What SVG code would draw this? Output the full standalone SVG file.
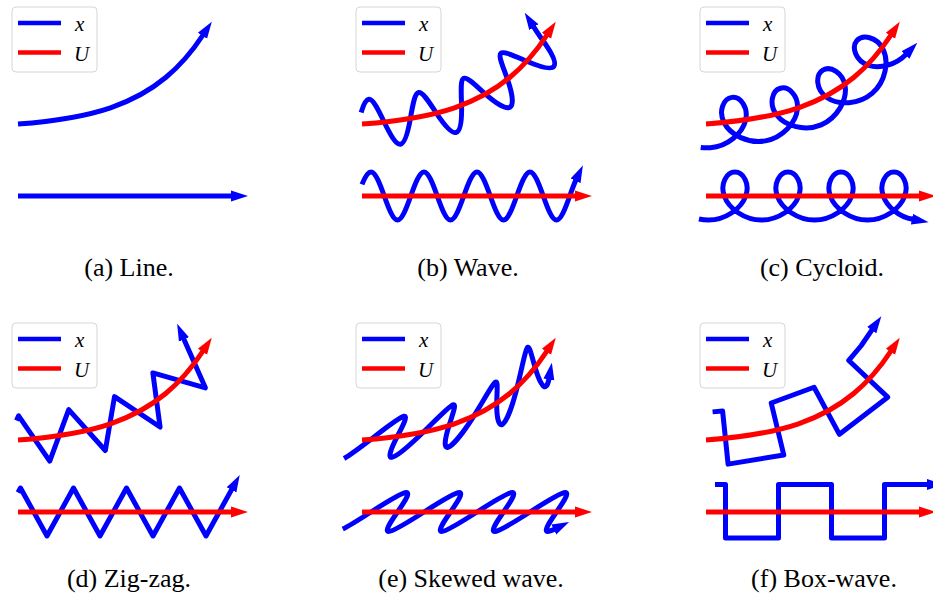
<svg xmlns="http://www.w3.org/2000/svg" width="933" height="594" viewBox="0 0 933 594">
<style>
.x{fill:none;stroke:#0000ff;stroke-width:5;stroke-linejoin:round}
.u{fill:none;stroke:#ff0000;stroke-width:5;stroke-linejoin:round}
.xa{marker-end:url(#hb)}
.ua{marker-end:url(#hr)}
.frame{fill:#ffffff;fill-opacity:0.8;stroke:#d6d6d6;stroke-width:1}
.lx{stroke:#0000ff;stroke-width:4.5}
.lu{stroke:#ff0000;stroke-width:4.5}
.lg{font-family:"Liberation Serif",serif;font-style:italic;font-size:21px;fill:#000}
.cap{font-family:"Liberation Serif",serif;font-size:26px;text-anchor:middle;fill:#000}
</style>
<defs>
<marker id="hb" viewBox="0 -6 17 12" refX="1" refY="0" markerWidth="17" markerHeight="12" markerUnits="userSpaceOnUse" orient="auto"><path d="M0,-5.5L17,0L0,5.5z" fill="#0000ff"/></marker>
<marker id="hr" viewBox="0 -6 17 12" refX="1" refY="0" markerWidth="17" markerHeight="12" markerUnits="userSpaceOnUse" orient="auto"><path d="M0,-5.5L17,0L0,5.5z" fill="#ff0000"/></marker>
</defs>
<rect width="933" height="594" fill="#ffffff"/>

<g id="panel-a">
<g id="a-curves">
<path class="x xa" d="M18,124C48.83,121.67 79.67,118.21 110.5,107.76C129,101.49 147.5,92.68 166,77.26C178.33,66.98 190.67,53.73 203,35"/>
<path class="x xa" d="M18,196H232"/>
</g>
<g id="a-legend">
<rect class="frame" x="12" y="7" width="85" height="65" rx="4"/>
<line class="lx" x1="18" y1="23" x2="61" y2="23"/>
<line class="lu" x1="18" y1="52.5" x2="61" y2="52.5"/>
<text class="lg" x="75" y="30.5">x</text>
<text class="lg" x="74" y="61">U</text>
</g>
<text id="a-caption" class="cap" x="129" y="276">(a) Line.</text>
</g>

<g id="panel-b">
<g id="b-curves" transform="translate(344,0)">
<path class="x xa" d="M17.12,112.41C19.51,104.74 21.99,99.61 24.88,99.36C29.13,98.99 34.41,109.96 40.15,121.98C45.89,134.00 51.90,144.81 56.50,144.19C61.10,143.57 64.10,131.56 66.40,118.44C68.70,105.32 70.61,93.35 74.61,92.53C78.61,91.71 85.00,101.99 92.36,113.09C99.72,124.19 107.52,133.90 112.18,132.45C116.84,131.00 117.90,118.55 117.56,105.23C117.23,91.91 116.26,79.91 119.73,78.30C123.20,76.69 131.52,85.31 141.51,94.11C151.51,102.91 161.91,109.96 166.13,107.13C170.35,104.30 167.89,91.89 163.48,79.32C159.08,66.75 154.07,55.91 156.84,53.32C159.61,50.73 170.50,55.99 182.76,61.21C195.02,66.43 206.71,70.35 209.80,66.49C212.89,62.63 206.82,51.61 199.07,40.78C195.41,35.67 191.96,30.35 189.37,26.31"/>
<path class="x xa" d="M18,184.38C21,176.91 24,172 27,172C31.42,172 35.83,183.43 40.25,196s8.83,24 13.25,24s8.83,-11.43 13.25,-24s8.83,-24 13.25,-24s8.83,11.43 13.25,24s8.83,24 13.25,24s8.83,-11.43 13.25,-24s8.83,-24 13.25,-24s8.83,11.43 13.25,24s8.83,24 13.25,24s8.83,-11.43 13.25,-24s8.83,-24 13.25,-24s8.83,11.43 13.25,24s8.83,24 13.25,24s8.83,-11.43 13.25,-24C227.83,190.07 229.92,184.22 232,179.84"/>
<path class="u ua" d="M18,124C48.83,121.67 79.67,118.21 110.5,107.76C129,101.49 147.5,92.68 166,77.26C178.33,66.98 190.67,53.73 203,35"/>
<path class="u ua" d="M18,196H232"/>
</g>
<g id="b-legend" transform="translate(344,0)">
<rect class="frame" x="12" y="7" width="85" height="65" rx="4"/>
<line class="lx" x1="18" y1="23" x2="61" y2="23"/>
<line class="lu" x1="18" y1="52.5" x2="61" y2="52.5"/>
<text class="lg" x="75" y="30.5">x</text>
<text class="lg" x="74" y="61">U</text>
</g>
<text id="b-caption" class="cap" x="468" y="276">(b) Wave.</text>
</g>

<g id="panel-c">
<g id="c-curves" transform="translate(688,0)">
<path class="x xa" d="M12.74,147.42C15.91,147.88 19.15,147.99 22.37,147.74C39.44,146.40 54.42,133.42 57.58,120.32C60.74,107.22 52.26,96.39 43.97,97.39C35.68,98.39 29.98,110.98 36.24,123.00C42.50,135.02 60.42,144.01 77.42,140.87C94.42,137.73 107.98,122.87 109.41,109.28C110.84,95.69 100.62,85.94 92.36,88.26C84.10,90.58 80.40,104.33 88.83,115.24C97.26,126.15 116.97,131.64 133.14,124.84C149.31,118.04 159.21,100.01 157.15,86.26C155.09,72.51 142.35,65.57 134.86,70.19C127.37,74.81 127.48,89.52 138.87,97.57C150.26,105.62 171.06,104.72 184.36,93.15C197.66,81.58 201.23,61.41 194.95,49.02C188.67,36.63 174.48,34.09 168.84,40.71C163.20,47.33 167.66,61.14 180.76,65.43C191.89,69.07 207.97,64.84 218.19,54.25"/>
<path class="x xa" d="M10.99,218.95C14.09,219.64 17.30,220 20.5,220c16.98,0 32.83,-11.43 37.25,-24c4.42,-12.57 -2.6,-24 -10.75,-24c-8.15,0 -15.17,11.43 -10.75,24c4.42,12.57 20.27,24 37.25,24c16.98,0 32.83,-11.43 37.25,-24c4.42,-12.57 -2.6,-24 -10.75,-24c-8.15,0 -15.17,11.43 -10.75,24c4.42,12.57 20.27,24 37.25,24c16.98,0 32.83,-11.43 37.25,-24c4.42,-12.57 -2.6,-24 -10.75,-24c-8.15,0 -15.17,11.43 -10.75,24c4.42,12.57 20.27,24 37.25,24c16.98,0 32.83,-11.43 37.25,-24c4.42,-12.57 -2.6,-24 -10.75,-24c-8.15,0 -15.17,11.43 -10.75,24C199,206.67 210.74,216.82 224.86,219.33"/>
<path class="u ua" d="M18,124C48.83,121.67 79.67,118.21 110.5,107.76C129,101.49 147.5,92.68 166,77.26C178.33,66.98 190.67,53.73 203,35"/>
<path class="u ua" d="M18,196H232"/>
</g>
<g id="c-legend" transform="translate(688,0)">
<rect class="frame" x="12" y="7" width="85" height="65" rx="4"/>
<line class="lx" x1="18" y1="23" x2="61" y2="23"/>
<line class="lu" x1="18" y1="52.5" x2="61" y2="52.5"/>
<text class="lg" x="75" y="30.5">x</text>
<text class="lg" x="74" y="61">U</text>
</g>
<text id="c-caption" class="cap" x="822" y="276">(c) Cycloid.</text>
</g>

<g id="panel-d">
<g id="d-curves" transform="translate(0,316)">
<path class="x xa" d="M16.53,104.59L18.61,99.88L49.73,145.05L68.70,93.67L105.32,134.48L114.52,80.60L160.07,111.03L152.86,56.93L205.38,71.83L183.59,22.49"/>
<path class="x xa" d="M18,176.53L20.5,172L47,220L73.5,172L100,220L126.5,172L153,220L179.5,172L206,220L232,172.91"/>
<path class="u ua" d="M18,124C48.83,121.67 79.67,118.21 110.5,107.76C129,101.49 147.5,92.68 166,77.26C178.33,66.98 190.67,53.73 203,35"/>
<path class="u ua" d="M18,196H232"/>
</g>
<g id="d-legend" transform="translate(0,316)">
<rect class="frame" x="12" y="7" width="85" height="65" rx="4"/>
<line class="lx" x1="18" y1="23" x2="61" y2="23"/>
<line class="lu" x1="18" y1="52.5" x2="61" y2="52.5"/>
<text class="lg" x="75" y="30.5">x</text>
<text class="lg" x="74" y="61">U</text>
</g>
<text id="d-caption" class="cap" x="129" y="587">(d) Zig-zag.</text>
</g>

<g id="panel-e">
<g id="e-curves" transform="translate(344,316)">
<path class="x xa" d="M0.08,142.47C6.66,138.68 16.79,131.12 26.97,123.27C41.96,111.71 55.70,100.85 59.92,100.22C64.15,99.59 58.99,109.34 53.31,120.40C47.63,131.46 43.27,141.78 47.89,141.27C52.51,140.76 65.86,129.24 79.42,116.04C92.99,102.84 105.04,90.15 108.92,88.80C112.80,87.45 108.83,97.67 105.07,109.53C101.31,121.39 99.22,132.54 103.92,131.27C108.63,130.00 119.67,116.04 129.83,100.07C139.99,84.10 148.05,68.76 151.17,66.34C154.29,63.93 152.94,74.77 152.74,87.21C152.54,99.65 154.24,110.91 158.49,108.29C162.74,105.67 168.62,89.18 173.26,70.83C177.90,52.48 180.94,35.09 183.21,31.82C185.48,28.55 187.51,39.57 191.05,51.50C194.59,63.43 199.30,73.67 202.40,69.99C203.40,68.81 204.43,66.11 205.06,62.55"/>
<path class="x xa" d="M-1.26,213.07C5.52,209.72 16.18,202.94 27,196c15.94,-10.21 30.83,-19.5 35.25,-19.5c4.42,0 -1.65,9.29 -8.75,19.5c-7.1,10.21 -13.17,19.5 -8.75,19.5c4.42,0 19.31,-9.29 35.25,-19.5c15.94,-10.21 30.83,-19.5 35.25,-19.5c4.42,0 -1.65,9.29 -8.75,19.5c-7.1,10.21 -13.17,19.5 -8.75,19.5c4.42,0 19.31,-9.29 35.25,-19.5c15.94,-10.21 30.83,-19.5 35.25,-19.5c4.42,0 -1.65,9.29 -8.75,19.5c-7.1,10.21 -13.17,19.5 -8.75,19.5c4.42,0 19.31,-9.29 35.25,-19.5c15.94,-10.21 30.83,-19.5 35.25,-19.5c4.42,0 -1.65,9.29 -8.75,19.5c-7.1,10.21 -13.17,19.5 -8.75,19.5C205.17,215.5 207.53,214.66 210.73,213.08"/>
<path class="u ua" d="M18,124C48.83,121.67 79.67,118.21 110.5,107.76C129,101.49 147.5,92.68 166,77.26C178.33,66.98 190.67,53.73 203,35"/>
<path class="u ua" d="M18,196H232"/>
</g>
<g id="e-legend" transform="translate(344,316)">
<rect class="frame" x="12" y="7" width="85" height="65" rx="4"/>
<line class="lx" x1="18" y1="23" x2="61" y2="23"/>
<line class="lu" x1="18" y1="52.5" x2="61" y2="52.5"/>
<text class="lg" x="75" y="30.5">x</text>
<text class="lg" x="74" y="61">U</text>
</g>
<text id="e-caption" class="cap" x="471" y="587">(e) Skewed wave.</text>
</g>

<g id="panel-f">
<g id="f-curves" transform="translate(688,316)">
<path class="x xa" d="M24.58,95.87L34.59,94.92L40.10,148.13L95.79,139.02L83.22,87.02L126.05,71.23L151.42,118.33L199.70,81.18L160.79,44.45L173.12,29.74L184.31,13.38"/>
<path class="x xa" d="M27,168.5H37.5V222H90.5V168.5H143.5V222H196.5V168.5H240"/>
<path class="u ua" d="M18,124C48.83,121.67 79.67,118.21 110.5,107.76C129,101.49 147.5,92.68 166,77.26C178.33,66.98 190.67,53.73 203,35"/>
<path class="u ua" d="M18,196H232"/>
</g>
<g id="f-legend" transform="translate(688,316)">
<rect class="frame" x="12" y="7" width="85" height="65" rx="4"/>
<line class="lx" x1="18" y1="23" x2="61" y2="23"/>
<line class="lu" x1="18" y1="52.5" x2="61" y2="52.5"/>
<text class="lg" x="75" y="30.5">x</text>
<text class="lg" x="74" y="61">U</text>
</g>
<text id="f-caption" class="cap" x="824" y="587">(f) Box-wave.</text>
</g>
</svg>
